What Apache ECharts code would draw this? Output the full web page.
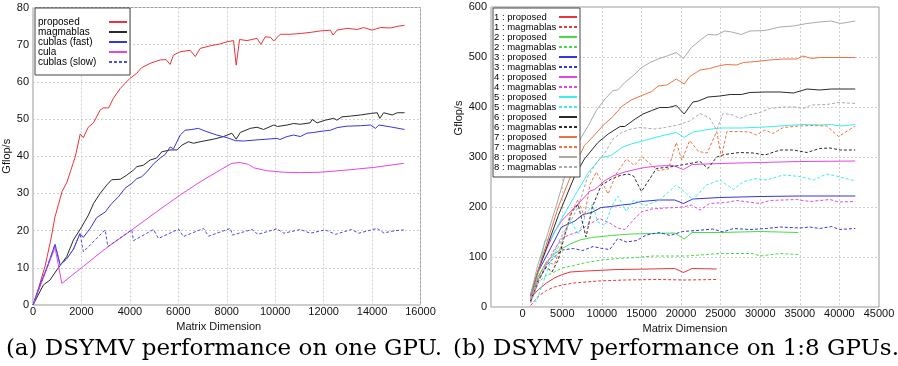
<!DOCTYPE html>
<html><head><meta charset="utf-8">
<script src="https://cdn.jsdelivr.net/npm/echarts@6/dist/echarts.min.js"></script>
<style>html,body{margin:0;padding:0;background:#fff}#c{width:898px;height:366px}</style>
</head><body><div id="c"></div>
<script>
// ---------- (a) one GPU ----------
const xTicksA = [0,2000,4000,6000,8000,10000,12000,14000,16000];
const yTicksA = [0,10,20,30,40,50,60,70,80];
const namesA = ['proposed','magmablas','cublas (fast)','cula','cublas (slow)'];
const proposedA = [[0,0],[250,5],[500,10.5],[750,18],[900,23.5],[1050,27],[1200,30.5],[1400,33],[1550,36],[1750,40],[1950,46],[2080,45],[2280,47.8],[2500,49],[2770,52.4],[2900,53],[3120,53],[3320,55.6],[3600,58.2],[3800,59.6],[4000,60.9],[4280,62.3],[4480,63.8],[4840,65],[5250,65.9],[5490,66],[5660,64.7],[5800,67.2],[6080,68.1],[6490,68.5],[6700,66.8],[6900,69],[7320,69.7],[7730,70.2],[8010,70.8],[8280,71.1],[8390,64.5],[8530,71.4],[8830,71.1],[9250,71.7],[9410,70.1],[9590,72.1],[9800,72],[9940,71],[10210,72.8],[10620,72.8],[11040,73],[11450,73.3],[11860,73.7],[12280,73.9],[12390,72.6],[12550,73.9],[12970,74.4],[13380,74.1],[13660,74.6],[14000,73.9],[14350,74.6],[14760,74.5],[15100,75],[15340,75.2]];
const magmablasA = [[0,0],[430,5.4],[700,6.7],[980,9.4],[1390,13],[1670,17.5],[2010,21],[2290,24.2],[2500,27.3],[2770,30],[3050,32.3],[3250,33.7],[3600,33.8],[3870,34.9],[4150,36.3],[4290,37.2],[4560,37.6],[4840,39],[5100,39.5],[5320,41.2],[5660,41.7],[5940,41.7],[6150,43],[6420,43.9],[6630,43.5],[6900,43.9],[7460,44.6],[7870,45.3],[8210,46.2],[8390,44.6],[8560,46.4],[8970,47.5],[9250,47.8],[9520,47.2],[9940,48.4],[10100,48],[10490,48.4],[10760,48.8],[11040,48.6],[11450,49],[11520,49.9],[11730,49],[12070,49.7],[12420,50.2],[12550,49.7],[12760,50.6],[13110,50.8],[13520,51.1],[13930,51.5],[14210,51.7],[14320,50.2],[14480,51.7],[14830,51.1],[15040,51.7],[15340,51.7]];
const cublasFastA = [[0,0],[300,5.5],[600,10.5],[910,16.3],[1120,10.8],[1390,12.4],[1670,15],[1940,19.2],[2080,18.2],[2360,20.6],[2630,23.5],[2980,25],[3250,27.3],[3530,29.1],[3800,31.4],[4080,32.7],[4290,34],[4490,34.5],[4700,35.8],[4970,37.9],[5250,39.5],[5460,40.5],[5660,42.5],[5800,42],[6080,45.7],[6280,47],[6560,47.2],[6830,47.5],[7180,46.6],[7590,45.7],[8010,45],[8350,44.2],[8700,44.1],[9250,44.4],[9660,44.6],[10080,44.8],[10200,44.5],[10490,45.3],[10760,45.7],[11040,45.3],[11310,46.2],[11590,46.4],[12000,46.8],[12280,47],[12560,47.7],[12970,48.1],[13520,48.2],[13930,48.4],[14140,47.5],[14280,48.4],[14760,47.9],[15340,47.2]];
const culaA = [[0,0],[910,15.5],[1190,5.8],[2000,10],[3000,15.2],[4080,20.2],[5110,25.1],[6080,29.6],[6900,33.1],[7730,36.3],[8210,38.1],[8560,38.3],[8900,37.8],[9110,36.9],[9660,36.1],[10350,35.7],[11040,35.6],[11860,35.7],[12970,36.3],[14070,37],[15310,38.1]];
const cublasSlowA = [[0,0],[300,5.5],[600,10.5],[910,16.3],[1120,10.8],[1390,12.4],[1670,15],[1940,19.3],[2080,14.3],[2980,20.2],[3090,15.7],[4080,20.2],[4150,17.3],[4975,20.3],[5180,17.9],[6010,20.4],[6210,18.4],[7040,20.6],[7250,18.5],[8145,20.6],[8240,18.8],[9040,20.3],[9290,19],[10075,20.5],[10350,19.3],[11040,20.3],[11450,19.3],[12070,20.2],[12490,19],[13150,20.3],[13450,19.3],[14210,20.6],[14480,19.4],[14970,20],[15310,20.2]];

// ---------- (b) 1:8 GPUs ----------
const xTicksB = [0,5000,10000,15000,20000,25000,30000,35000,40000,45000];
const yTicksB = [0,100,200,300,400,500,600];
const namesB = ['1 : proposed','1 : magmablas','2 : proposed','2 : magmablas','3 : proposed','3 : magmablas','4 : proposed','4 : magmablas','5 : proposed','5 : magmablas','6 : proposed','6 : magmablas','7 : proposed','7 : magmablas','8 : proposed','8 : magmablas'];
const p1 = [[1000,18],[2000,35],[3000,48],[4000,58],[5000,65],[6000,70],[8000,72],[12000,75],[16000,76],[19200,77],[20300,69],[21400,77],[24500,76]];
const m1 = [[1000,3],[2000,22],[3000,33],[4000,40],[5000,44],[6500,48],[9500,52],[12900,54],[17000,55],[20500,54],[24500,55]];
const p2 = [[1000,20],[2000,62],[3000,90],[4000,106],[5000,117],[6000,126],[7200,134],[8700,139],[11200,143],[13700,146],[16300,147],[19200,148],[20400,136],[21400,149],[24900,149],[30000,151],[34800,149]];
const m2 = [[1000,8],[2000,50],[3000,63],[4000,70],[5000,78],[6500,83],[8000,89],[10000,94],[12000,97],[14200,99],[16500,102],[20700,102],[24900,107],[29100,107],[30000,102],[32500,107],[34800,105]];
const p3 = [[1000,22],[2000,72],[3000,102],[4000,132],[4900,160],[6600,172],[7600,185],[8700,189],[9900,199],[11200,201],[12500,204],[13700,206],[15000,211],[17100,214],[19200,214],[20300,207],[21500,216],[24900,219],[30000,221],[35000,222],[42000,222]];
const m3 = [[1000,13],[2000,55],[3000,82],[4000,100],[5000,114],[6400,117],[7600,113],[8900,121],[10000,117],[11000,115],[12000,137],[13100,130],[14400,133],[15600,144],[17300,149],[18600,143],[20200,151],[22000,153],[24000,156],[25300,150],[26600,157],[28700,155],[30800,157],[32500,160],[35000,158],[36300,160],[37500,157],[39000,161],[40000,155],[42000,157]];
const p4 = [[1000,22],[2000,75],[3000,115],[4000,150],[4900,172],[6000,190],[7600,216],[8500,232],[9100,235],[10400,253],[11400,262],[12900,270],[14200,275],[15400,279],[17100,282],[19000,283],[20300,275],[21400,285],[24900,287],[30000,289],[35000,291],[42000,292]];
const m4 = [[1000,10],[2000,50],[3000,85],[4000,115],[5000,138],[6000,145],[7000,150],[8200,164],[9700,177],[11000,168],[12000,158],[12900,155],[14200,178],[15000,190],[16300,196],[18000,198],[19500,199],[20500,201],[21300,204],[22400,194],[23600,207],[25700,209],[27000,213],[30000,207],[31200,213],[34600,215],[36300,211],[38800,215],[39900,210],[42000,211]];
const p5 = [[1000,25],[2000,70],[2800,133],[3600,136],[4900,176],[6600,223],[8300,269],[9900,299],[11200,303],[12500,319],[13700,326],[15400,333],[16700,339],[18000,344],[19400,349],[20400,339],[21500,350],[23400,355],[24900,358],[27600,358],[30600,360],[32500,362],[35400,365],[37500,364],[39000,365],[40100,362],[42000,365]];
const m5 = [[1000,20],[1700,10],[2500,45],[3500,90],[4500,120],[5500,150],[6000,175],[7000,145],[8000,185],[8800,205],[9500,170],[10400,163],[11200,200],[12000,222],[13100,191],[14000,214],[15500,203],[17300,214],[19400,244],[20700,227],[21500,214],[23200,244],[24900,254],[26600,235],[27900,251],[29500,257],[30800,254],[32900,264],[35000,261],[36700,254],[38400,266],[39600,262],[41800,253]];
const p6 = [[1000,25],[2000,75],[2800,109],[4500,183],[6600,263],[7800,296],[9500,329],[10800,346],[12300,361],[12900,361],[14200,376],[15200,386],[16300,393],[17300,399],[18400,399],[19400,403],[20400,386],[21500,410],[22200,412],[23400,420],[24900,422],[26200,425],[27600,425],[28700,429],[30600,430],[32500,430],[34200,428],[35900,436],[37500,434],[39000,436],[42000,436]];
const m6 = [[1000,12],[2000,55],[3000,80],[3700,70],[4500,95],[5500,155],[6200,190],[7000,205],[8000,140],[8800,200],[9900,243],[11200,256],[12300,263],[13300,266],[14000,262],[15000,231],[16900,277],[19000,281],[21100,287],[22400,291],[23400,277],[24500,300],[25500,305],[27400,309],[29100,308],[30600,304],[32500,314],[34200,314],[35900,309],[37500,317],[38800,318],[40100,314],[42000,314]];
const p7 = [[1000,25],[2400,96],[4500,200],[6600,283],[7800,323],[8900,341],[10200,364],[11400,381],[12500,401],[13700,414],[15200,424],[16300,431],[17100,442],[18200,444],[19400,456],[20400,446],[21100,461],[22400,474],[23600,477],[24700,482],[25700,485],[27000,484],[27900,489],[29500,491],[31200,494],[32900,496],[34600,496],[35400,502],[36500,497],[37500,499],[42000,499]];
const m7 = [[1000,15],[2000,60],[3000,90],[4000,85],[5000,130],[6000,185],[7000,215],[7800,180],[8500,245],[9300,270],[9900,253],[10800,226],[11800,266],[13100,296],[14100,283],[15100,300],[16200,285],[17100,273],[18400,276],[19400,329],[20100,294],[21100,333],[22200,311],[23300,308],[24500,351],[25100,300],[25800,351],[27400,351],[28600,350],[29500,344],[30600,354],[31600,347],[32900,359],[35000,362],[36700,363],[38400,362],[39900,341],[42000,362]];
const p8 = [[1000,25],[1900,83],[3200,149],[4500,216],[5700,283],[7000,329],[8300,363],[9300,393],[10400,416],[11400,433],[12000,434],[12900,449],[14200,466],[15000,479],[16100,489],[17100,496],[18400,503],[19400,509],[20300,497],[21300,519],[22600,536],[23400,545],[24500,544],[25500,552],[26400,550],[27600,545],[28700,552],[30600,553],[32500,560],[34200,562],[35900,567],[37500,570],[39000,572],[40100,567],[42000,572]];
const m8 = [[1000,15],[2000,55],[3000,85],[4000,110],[5000,145],[6000,170],[7000,200],[7500,225],[8200,260],[9100,283],[10400,309],[11400,336],[12500,349],[13700,356],[14800,359],[16700,356],[18000,359],[19600,364],[21100,372],[22400,387],[23600,378],[24500,354],[25300,387],[26600,384],[27400,377],[28500,384],[30000,389],[31200,397],[32900,400],[34600,400],[35400,397],[36500,404],[38400,405],[39900,409],[42000,407]];

const captions = ['(a) DSYMV performance on one GPU.', '(b) DSYMV performance on 1:8 GPUs.'];

// ---------- styling ----------
const SANS = 'Liberation Sans, Arial, Helvetica, sans-serif';
const colorsA = ['#e8343a','#2a2a2a','#3535dd','#e544e5','#4a4aee'];
const dashA = [false,false,false,false,true];
const dataA = [proposedA, magmablasA, cublasFastA, culaA, cublasSlowA];
const colorsB = ['#e8343a','#44dd44','#3535dd','#e544e5','#38eeee','#2a2a2a','#ef7242','#aaaaaa'];
const dataB = [p1,m1,p2,m2,p3,m3,p4,m4,p5,m5,p6,m6,p7,m7,p8,m8];

function lineSeries(name, data, color, dashed, xi) {
  return {
    name, type:'line', data, xAxisIndex:xi, yAxisIndex:xi,
    symbol:'none', showSymbol:false, animation:false, silent:true,
    lineStyle:{color, width:1, type: dashed ? [3,2] : 'solid'},
    itemStyle:{color}
  };
}
const series = [];
namesA.forEach((n,i)=>series.push(lineSeries(n, dataA[i], colorsA[i], dashA[i], 0)));
namesB.forEach((n,i)=>series.push(lineSeries(n, dataB[i], colorsB[Math.floor(i/2)], i%2===1, 1)));

const gridLine = {show:true, lineStyle:{color:'#cfcfcf', width:1, type:[2,2]}};
const axisText = {color:'#111', fontFamily:SANS, fontSize:11};
const plain = v => String(v);

const option = {
  backgroundColor:'#fff',
  animation:false,
  title: [
    {text:captions[0], left:219, top:333, textAlign:'center',
     textStyle:{fontFamily:'DejaVu Serif', fontWeight:'normal', fontSize:23, color:'#000'}},
    {text:captions[1], left:671, top:333, textAlign:'center',
     textStyle:{fontFamily:'DejaVu Serif', fontWeight:'normal', fontSize:23, color:'#000'}}
  ],
  grid: [
    {left:33, top:7.5, width:387.5, height:297.5, show:true, borderColor:'#999', borderWidth:1, containLabel:false},
    {left:491, top:7, width:388, height:300, show:true, borderColor:'#999', borderWidth:1, containLabel:false}
  ],
  xAxis: [
    {type:'value', gridIndex:0, min:0, max:16000, interval:2000,
     axisLine:{show:false}, axisTick:{show:false}, splitLine:gridLine,
     axisLabel:Object.assign({margin:1, customValues:xTicksA, formatter:plain}, axisText),
     name:'Matrix Dimension', nameLocation:'middle', nameGap:5,
     nameTextStyle:Object.assign({padding:[0,16,0,0]}, axisText)},
    {type:'value', gridIndex:1, min:-4000, max:45000,
     axisLine:{show:false}, axisTick:{show:false, customValues:xTicksB}, splitLine:gridLine,
     axisLabel:Object.assign({margin:1, customValues:xTicksB, formatter:plain}, axisText),
     name:'Matrix Dimension', nameLocation:'middle', nameGap:4,
     nameTextStyle:axisText}
  ],
  yAxis: [
    {type:'value', gridIndex:0, min:0, max:80, interval:10,
     axisLine:{show:false}, axisTick:{show:false}, splitLine:gridLine,
     axisLabel:Object.assign({margin:4, customValues:yTicksA, formatter:plain}, axisText),
     name:'Gflop/s', nameLocation:'middle', nameGap:11, nameRotate:90,
     nameTextStyle:axisText},
    {type:'value', gridIndex:1, min:0, max:600, interval:100,
     axisLine:{show:false}, axisTick:{show:false}, splitLine:gridLine,
     axisLabel:Object.assign({margin:4, customValues:yTicksB, formatter:plain}, axisText),
     name:'Gflop/s', nameLocation:'middle', nameGap:19, nameRotate:90,
     nameTextStyle:Object.assign({padding:[0,0,0,78]}, axisText)}
  ],
  legend: [
    {data:namesA, orient:'vertical', left:35, top:8, align:'right', selectedMode:false,
     itemWidth:18, itemHeight:10.6, itemGap:0, padding:[9,2,8,3],
     borderColor:'#444', borderWidth:1, backgroundColor:'#fff',
     itemStyle:{opacity:0, borderWidth:0},
     formatter: n => '{t|' + n + '}',
     textStyle:{color:'#000', fontFamily:SANS, fontSize:10,
       rich:{t:{width:66, align:'left', fontSize:10, fontFamily:SANS, lineHeight:10.6, color:'#000'}}}},
    {data:namesB, orient:'vertical', left:493, top:8, align:'right', selectedMode:false,
     itemWidth:18, itemHeight:9.8, itemGap:0, padding:[4,2,5,1],
     borderColor:'#444', borderWidth:1, backgroundColor:'#fff',
     itemStyle:{opacity:0, borderWidth:0},
     formatter: n => '{t|' + n + '}',
     textStyle:{color:'#000', fontFamily:SANS, fontSize:9.5,
       rich:{t:{width:60, align:'left', fontSize:9.5, fontFamily:SANS, lineHeight:9.8, color:'#000'}}}}
  ],
  series
};
const chart = echarts.init(document.getElementById('c'));
chart.setOption(option);
</script>
</body></html>
